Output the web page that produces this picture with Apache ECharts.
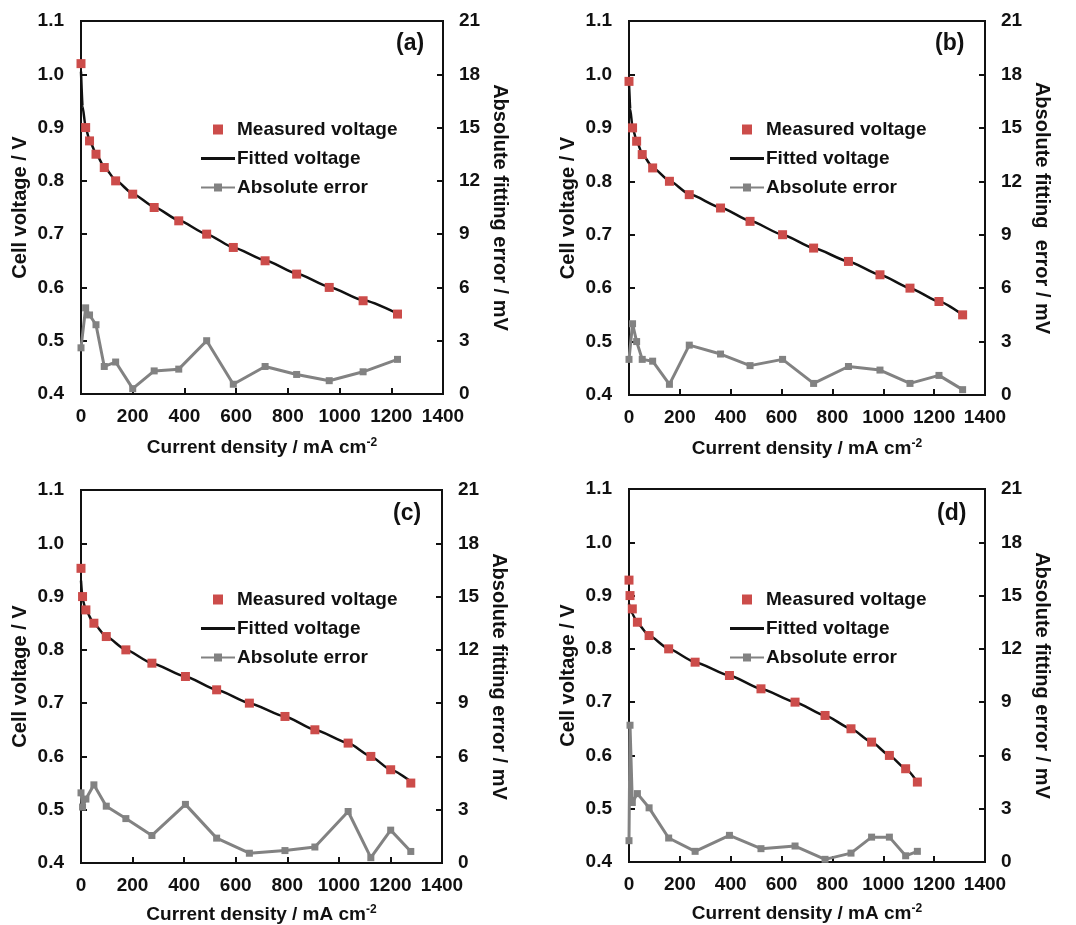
<!DOCTYPE html>
<html><head><meta charset="utf-8">
<script src="https://cdn.jsdelivr.net/npm/echarts@6/dist/echarts.min.js"></script>
<style>html,body{margin:0;padding:0;background:#fff}#c{width:1076px;height:925px}</style>
</head><body><div id="c"></div>
<script>
// ---- data ----
const xTicks = [0,200,400,600,800,1000,1200,1400];
const leftTicks = [0.4,0.5,0.6,0.7,0.8,0.9,1.0,1.1];
const rightTicks = [0,3,6,9,12,15,18,21];
const panelLabels = ['(a)','(b)','(c)','(d)'];
const seriesNames = ['Measured voltage','Fitted voltage','Absolute error'];

const aX   = [0,18,33,58,90,134,200,283,378,486,589,712,834,960,1091,1224];
const aV   = [1.02,0.90,0.875,0.85,0.825,0.80,0.775,0.75,0.725,0.70,0.675,0.65,0.625,0.60,0.575,0.55];
const aErr = [2.6,4.85,4.45,3.9,1.55,1.8,0.3,1.3,1.4,3.0,0.55,1.55,1.1,0.75,1.25,1.95];
const aFitX = [0,6,18,33,58,90,134,200,283,378,486,589,712,834,960,1091,1224];
const aFitV = [1.005,0.94,0.90,0.876,0.851,0.826,0.801,0.776,0.751,0.726,0.70,0.675,0.651,0.626,0.601,0.576,0.551];

const bX   = [0,14,30,52,93,159,237,360,476,604,726,863,987,1105,1219,1312];
const bV   = [0.987,0.90,0.875,0.85,0.825,0.80,0.775,0.75,0.725,0.70,0.675,0.65,0.625,0.60,0.575,0.55];
const bErr = [2.0,4.0,3.0,2.0,1.9,0.6,2.8,2.3,1.65,2.0,0.65,1.6,1.4,0.65,1.1,0.3];
const bFitX = [0,5,14,30,52,93,159,237,360,476,604,726,863,987,1105,1219,1312];
const bFitV = [0.985,0.935,0.90,0.876,0.851,0.826,0.801,0.776,0.751,0.726,0.70,0.675,0.65,0.625,0.60,0.575,0.55];

const cX   = [0,6,19,50,98,174,275,405,526,653,791,907,1036,1124,1201,1279];
const cV   = [0.953,0.90,0.875,0.85,0.825,0.80,0.775,0.75,0.725,0.70,0.675,0.65,0.625,0.60,0.575,0.55];
const cErr = [3.95,3.15,3.6,4.4,3.2,2.5,1.55,3.3,1.4,0.55,0.7,0.9,2.9,0.3,1.85,0.65];
const cFitX = [0,6,19,50,98,174,275,405,526,653,791,907,1036,1124,1201,1279];
const cFitV = [0.93,0.895,0.874,0.849,0.825,0.80,0.775,0.75,0.725,0.70,0.675,0.65,0.625,0.60,0.575,0.553];

const dX   = [0,4,13,33,79,156,260,395,519,653,771,873,954,1024,1088,1134];
const dV   = [0.929,0.90,0.875,0.85,0.825,0.80,0.775,0.75,0.725,0.70,0.675,0.65,0.625,0.60,0.575,0.55];
const dErr = [1.2,7.7,3.35,3.85,3.05,1.35,0.6,1.5,0.75,0.9,0.15,0.5,1.4,1.4,0.35,0.6];
const dFitX = [0,4,13,33,79,156,260,395,519,653,771,873,954,1024,1088,1134];
const dFitV = [0.885,0.875,0.866,0.848,0.825,0.80,0.775,0.75,0.725,0.70,0.675,0.65,0.625,0.60,0.575,0.55];

const panels = [
  {x:aX,v:aV,e:aErr,fx:aFitX,fv:aFitV},
  {x:bX,v:bV,e:bErr,fx:bFitX,fv:bFitV},
  {x:cX,v:cV,e:cErr,fx:cFitX,fv:cFitV},
  {x:dX,v:dV,e:dErr,fx:dFitX,fv:dFitV}
];
const rightNames = ['Absolute fitting error / mV','Absolute fitting  error / mV','Absolute fitting error / mV','Absolute fitting error / mV'];

// ---- layout ----
const FONT = '"Liberation Sans", Arial, sans-serif';
const grids = [
  {left:81, top:21, width:362, height:373},
  {left:629, top:21, width:356, height:374},
  {left:81, top:490, width:361, height:374},
  {left:629, top:489, width:356, height:373}
];
const legendPos = [
  {left:195, top:115},
  {left:724, top:115},
  {left:195, top:585},
  {left:724, top:585}
];
const labelPos = [[412,45],[951,45],[409,515],[953,515]];
const RED = '#cc4c4a', GRAY = '#828282';

const lblStyle = {color:'#111', fontFamily:FONT, fontWeight:'bold', fontSize:19};
const axisLineStyle = {show:true, lineStyle:{color:'#111', width:2}};
const tickStyle = {show:true, inside:true, length:6, lineStyle:{color:'#111', width:2}};

const option = {
  animation:false,
  backgroundColor:'#fff',
  grid: grids.map(g => Object.assign({show:true, borderColor:'#111', borderWidth:2, backgroundColor:'transparent', containLabel:false}, g)),
  xAxis: grids.map((g,i) => ({
    type:'value', gridIndex:i, min:xTicks[0], max:xTicks[xTicks.length-1], interval:200,
    axisLine:axisLineStyle, axisTick:tickStyle, splitLine:{show:false},
    axisLabel:Object.assign({margin:13, formatter:v => String(v)}, lblStyle),
    name:'Current density / mA cm{sup|-2}', nameLocation:'middle', nameGap: i<2 ? 43 : 41,
    nameTextStyle:{color:'#111', fontFamily:FONT, fontWeight:'bold', fontSize:19,
      rich:{sup:{fontSize:12, fontWeight:'bold', fontFamily:FONT, color:'#111', verticalAlign:'top', padding:[0,0,9,0]}}}
  })),
  yAxis: [],
  legend: [],
  series: [],
  graphic: panelLabels.map((t,i) => ({
    type:'text', left:labelPos[i][0]-16, top:labelPos[i][1]-13,
    style:{text:t, fill:'#111', font:'bold 23px ' + FONT}
  }))
};

grids.forEach((g,i) => {
  option.yAxis.push({
    type:'value', gridIndex:i, position:'left', min:leftTicks[0], max:leftTicks[leftTicks.length-1], interval:0.1,
    axisLine:axisLineStyle, axisTick:tickStyle, splitLine:{show:false},
    axisLabel:Object.assign({margin:17, formatter:v => v.toFixed(1)}, lblStyle),
    name:'Cell voltage / V', nameLocation:'middle', nameGap:51,
    nameTextStyle:{color:'#111', fontFamily:FONT, fontWeight:'bold', fontSize:20}
  });
  option.yAxis.push({
    type:'value', gridIndex:i, position:'right', min:rightTicks[0], max:rightTicks[rightTicks.length-1], interval:3,
    axisLine:axisLineStyle, axisTick:tickStyle, splitLine:{show:false},
    axisLabel:Object.assign({margin:16}, lblStyle),
    name:rightNames[i], nameLocation:'middle', nameGap:47, nameRotate:-90,
    nameTextStyle:{color:'#111', fontFamily:FONT, fontWeight:'bold', fontSize:20}
  });
  option.legend.push({
    orient:'vertical', left:legendPos[i].left, top:legendPos[i].top,
    itemWidth:34, itemHeight:10, itemGap:10, padding:5,
    textStyle:{color:'#111', fontFamily:FONT, fontWeight:'bold', fontSize:19, padding:[0,0,0,-3]},
    data:[
      {name:seriesNames[0], icon:'path://M0,0h10v10h-10z'},
      {name:seriesNames[1], icon:'path://M0,0h34v3h-34z'},
      {name:seriesNames[2]}
    ]
  });
  const p = panels[i];
  option.series.push({
    name:seriesNames[1], type:'line', xAxisIndex:i, yAxisIndex:2*i,
    data:p.fx.map((x,k)=>[x,p.fv[k]]), symbol:'none', smooth:0.2, smoothMonotone:'x',
    lineStyle:{color:'#111', width:2.5}, itemStyle:{color:'#111'}, z:3
  });
  option.series.push({
    name:seriesNames[2], type:'line', xAxisIndex:i, yAxisIndex:2*i+1,
    data:p.x.map((x,k)=>[x,p.e[k]]), symbol:'rect', symbolSize:7, showSymbol:true,
    lineStyle:{color:GRAY, width:3}, itemStyle:{color:GRAY}, z:2
  });
  option.series.push({
    name:seriesNames[0], type:'scatter', xAxisIndex:i, yAxisIndex:2*i,
    data:p.x.map((x,k)=>[x,p.v[k]]), symbol:'rect', symbolSize:9,
    itemStyle:{color:RED, opacity:1}, z:4
  });
});

const chart = echarts.init(document.getElementById('c'), null, {renderer:'canvas'});
chart.setOption(option);
</script>
</body></html>
